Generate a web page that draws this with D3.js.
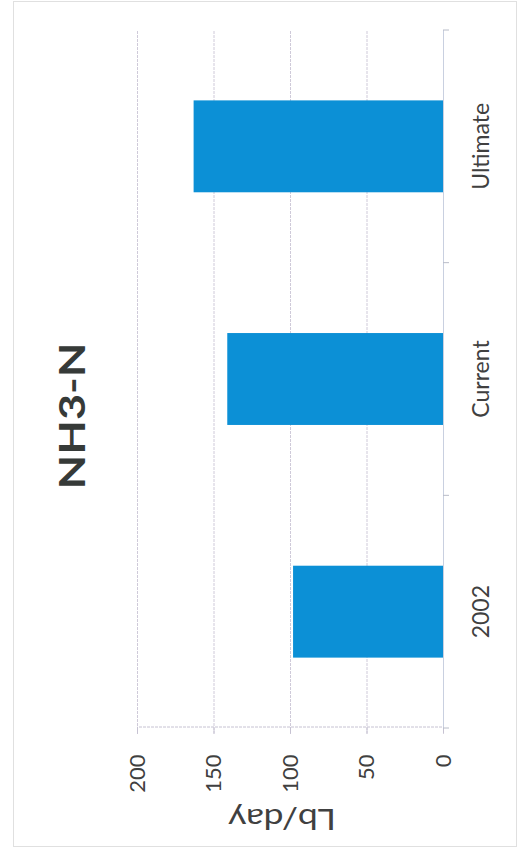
<!DOCTYPE html>
<html><head><meta charset="utf-8">
<script src="https://cdn.jsdelivr.net/npm/d3@7"></script>
<style>body{margin:0;background:#fff}</style>
</head><body>
<script>
const categories = ["2002", "Current", "Ultimate"];
const values = [98, 141, 163];
const yTicks = [0, 50, 100, 150, 200];
const titleText = "NH3-N";
const yTitleText = "Lb/day";

const W = 520, H = 850;
const svg = d3.select("body").append("svg").attr("width", W).attr("height", H);
svg.append("rect").attr("width", W).attr("height", H).attr("fill", "#fff");
svg.append("rect").attr("x", 13.5).attr("y", 1.5).attr("width", 503).attr("height", 845)
  .attr("fill", "none").attr("stroke", "#e0e0e0");

// chart drawn in its own frame (850 wide x 520 tall), then rotated -90deg onto the page
const g = svg.append("g").attr("transform", `translate(0,${H}) rotate(-90)`);
const x = d3.scaleBand().domain(categories).range([122, 820]).paddingInner(0.605).paddingOuter(0.3025);
const y = d3.scaleLinear().domain([0, 200]).range([443, 137]);
const font = "Lato, 'Open Sans', sans-serif";

// gridlines
g.selectAll("line.grid").data(yTicks.filter(d => d > 0)).join("line")
  .attr("x1", 116).attr("x2", 820).attr("y1", d => y(d) + 0.5).attr("y2", d => y(d) + 0.5)
  .attr("stroke", "#cfcad9").attr("stroke-width", 1).attr("stroke-dasharray", "3,1");

// value axis
const ya = g.append("g").attr("transform", "translate(122.5,0)")
  .call(d3.axisLeft(y).tickValues(yTicks).tickSize(6).tickPadding(21));
ya.select(".domain").attr("stroke", "#c6c2d2").attr("stroke-dasharray", "3,1");
ya.selectAll(".tick line").attr("stroke", "#c6c2d2");
ya.selectAll(".tick text").attr("font-family", font).attr("font-size", 22).attr("fill", "#404040");

// bars
g.selectAll("rect.bar").data(values).join("rect")
  .attr("x", (d, i) => x(categories[i])).attr("width", x.bandwidth())
  .attr("y", d => y(d)).attr("height", d => y(0) - y(d))
  .attr("fill", "#0c90d6");

// category axis
const step = x.step(), gap = step - x.bandwidth();
const bounds = categories.map(c => x(c) - gap / 2).concat([x(categories[categories.length - 1]) + x.bandwidth() + gap / 2]);
g.append("line").attr("x1", 122).attr("x2", 820).attr("y1", y(0) + 0.5).attr("y2", y(0) + 0.5)
  .attr("stroke", "#c9d0e0");
g.selectAll("line.ctick").data(bounds).join("line")
  .attr("x1", d => d).attr("x2", d => d).attr("y1", y(0)).attr("y2", y(0) + 6)
  .attr("stroke", "#b8bcc8");
g.selectAll("text.cat").data(categories).join("text")
  .attr("x", c => x(c) + x.bandwidth() / 2).attr("y", 489)
  .attr("text-anchor", "middle").attr("font-family", font).attr("font-size", 23)
  .attr("fill", "#404040").text(c => c);

// title
g.append("text").attr("x", 434).attr("y", 85).attr("text-anchor", "middle")
  .attr("font-family", font).attr("font-weight", "bold").attr("font-size", 37)
  .attr("textLength", 147).attr("lengthAdjust", "spacingAndGlyphs")
  .attr("fill", "#363a38").text(titleText);

// axis title
g.append("text").attr("transform", "translate(41,282) rotate(-90)").attr("text-anchor", "middle")
  .attr("font-family", font).attr("font-size", 29).attr("fill", "#404040")
  .attr("textLength", 108).attr("lengthAdjust", "spacingAndGlyphs").text(yTitleText);
</script>
</body></html>
